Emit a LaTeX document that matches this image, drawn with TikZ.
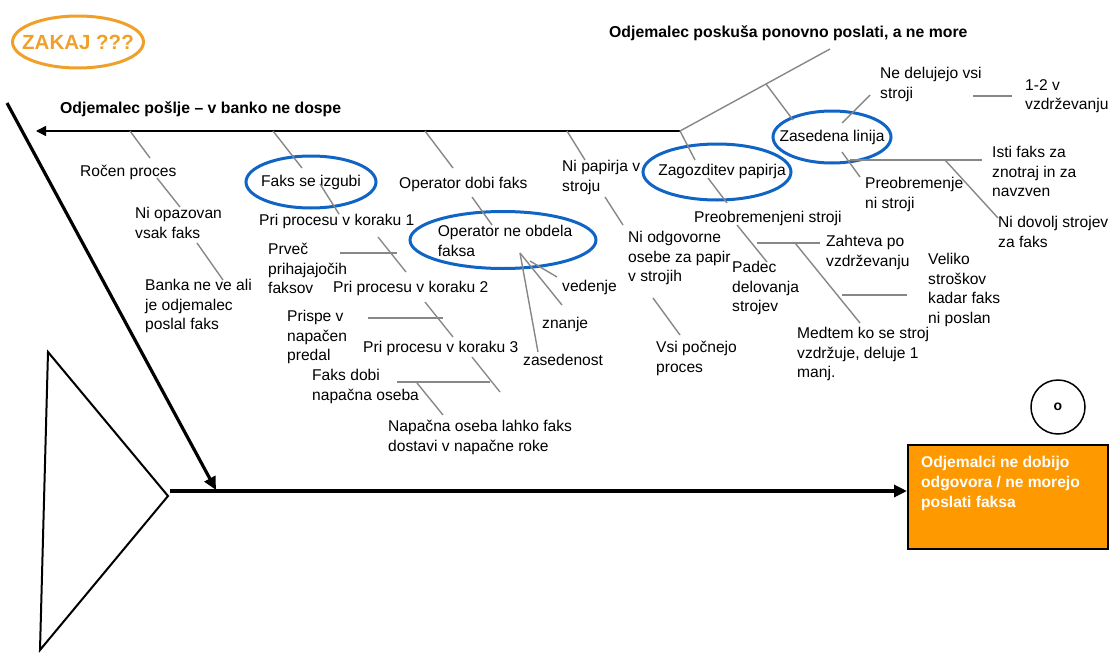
\documentclass[tikz,border=0pt]{standalone}
\usepackage{fontspec}
\setmainfont{Liberation Sans}
\usetikzlibrary{shapes.geometric,arrows.meta}

\definecolor{ringblue}{RGB}{16,100,196}
\definecolor{whyorange}{RGB}{240,160,40}
\definecolor{boxorange}{RGB}{255,153,0}
\definecolor{bonegray}{RGB}{135,135,135}

\tikzset{
  lbl/.style={anchor=north west, inner sep=0pt, align=left,
              font=\fontsize{15.6}{19.5}\selectfont},
  hdr/.style={lbl, font=\fontsize{15.8}{19.5}\selectfont\bfseries},
  ring/.style={ellipse, draw=ringblue, line width=3pt, inner sep=0pt},
  ringtext/.style={inner sep=0pt, align=left, font=\fontsize{15.6}{19.5}\selectfont},
  bone/.style={draw=bonegray, line width=1.4pt},
  spine/.style={draw=black, line width=3.2pt, -{Triangle[length=13pt,width=12pt]}},
  thinspine/.style={draw=black, line width=1.5pt, -{Triangle[length=10pt,width=10pt]}},
}

\begin{document}
\begin{tikzpicture}[x=1pt,y=-1pt]
\useasboundingbox (0,0) rectangle (1114,653);

% question bubble
\node[ellipse, draw=whyorange, line width=3pt, minimum width=131pt, minimum height=52pt,
      inner sep=0pt] (why) at (78,42) {};
\node[inner sep=0pt, text=whyorange, font=\fontsize{20.5}{24}\selectfont\bfseries]
  (whytext) at (why.center) {ZAKAJ ???};

% fish head (triangle) and main spine
\draw[line width=2pt, line join=miter] (48,352) -- (168,496) -- (40,650) -- cycle;
\node[draw=black, line width=1.5pt, fill=boxorange, anchor=north west,
      minimum width=200pt, minimum height=104pt, inner sep=0pt] (effect) at (907,444) {};
\node[anchor=north west, inner sep=0pt, align=left, text=white,
      font=\fontsize{15.6}{20}\selectfont\bfseries] (effecttext) at (921,456)
  {Odjemalci ne dobijo\\odgovora / ne morejo\\poslati faksa};
\node[circle, draw, line width=1.5pt, minimum size=54pt, inner sep=0pt,
      font=\fontsize{14}{16}\selectfont\bfseries] (note) at (1058,407) {o};

\coordinate (tail) at (170,491);
\draw[spine] (tail) -- (effect.west |- tail);

% diagonal arrow into the spine
\coordinate (diagtop) at (7,103);
\coordinate (diagend) at (216,490);
\draw[spine] (diagtop) -- (diagend);

% upper spine with its two headings
\coordinate (uright) at (680,131);
\coordinate (uleft) at (36,131);
\coordinate (retry) at (830,49);
\draw[thinspine] (uright) -- (uleft);
\draw[bone] (uright) -- (retry);
\node[hdr] (sendhead) at (60,102) {Odjemalec pošlje – v banko ne dospe};
\node[hdr] (retryhead) at (609,26) {Odjemalec poskuša ponovno poslati, a ne more};

% causes in blue rings
\node[ring, minimum width=130pt, minimum height=52pt] (lost) at (311,182) {};
\node[ringtext] (losttext) at (lost.center) {Faks se izgubi};
\node[ring, minimum width=186pt, minimum height=57pt] (operator) at (503,240) {};
\node[ringtext] (operatortext) at (505,241) {Operator ne obdela\\faksa};
\node[ring, minimum width=148pt, minimum height=56pt] (jam) at (717,172) {};
\node[ringtext] (jamtext) at (722,171) {Zagozditev papirja};
\node[ring, minimum width=118pt, minimum height=52pt] (busy) at (832,137) {};
\node[ringtext] (busytext) at (busy.center) {Zasedena linija};

% plain labels
\node[lbl] (manual) at (80,165) {Ročen proces};
\node[lbl] (notwatched) at (135,207) {Ni opazovan\\vsak faks};
\node[lbl] (bankunknown) at (145,279) {Banka ne ve ali\\je odjemalec\\poslal faks};
\node[lbl] (step1) at (259,214) {Pri procesu v koraku 1};
\node[lbl] (toomany) at (268,243) {Prveč\\prihajajočih\\faksov};
\node[lbl] (step2) at (333,281) {Pri procesu v koraku 2};
\node[lbl] (wrongtray) at (287,310) {Prispe v\\napačen\\predal};
\node[lbl] (step3) at (363,341) {Pri procesu v koraku 3};
\node[lbl] (wrongperson) at (312,369) {Faks dobi\\napačna oseba};
\node[lbl] (wronghands) at (388,420) {Napačna oseba lahko faks\\dostavi v napačne roke};
\node[lbl] (opgets) at (399,177) {Operator dobi faks};
\node[lbl] (behaviour) at (562,280) {vedenje};
\node[lbl] (knowledge) at (542,317) {znanje};
\node[lbl] (load) at (523,354) {zasedenost};
\node[lbl] (nopaper) at (562,160) {Ni papirja v\\stroju};
\node[lbl] (noresp) at (628,231) {Ni odgovorne\\osebe za papir\\v strojih};
\node[lbl] (allstart) at (656,341) {Vsi počnejo\\proces};
\node[lbl] (overloaded) at (694,211) {Preobremenjeni stroji};
\node[lbl] (failure) at (732,261) {Padec\\delovanja\\strojev};
\node[lbl] (service) at (826,235) {Zahteva po\\vzdrževanju};
\node[lbl] (cost) at (928,253) {Veliko\\stroškov\\kadar faks\\ni poslan};
\node[lbl] (oneless) at (797,327) {Medtem ko se stroj\\vzdržuje, deluje 1\\manj.};
\node[lbl] (notall) at (880,67) {Ne delujejo vsi\\stroji};
\node[lbl] (inservice) at (1025,79) {1-2 v\\vzdrževanju};
\node[lbl] (samefax) at (992,146) {Isti faks za\\znotraj in za\\navzven};
\node[lbl] (overload2) at (865,177) {Preobremenje\\ni stroji};
\node[lbl] (fewmachines) at (998,216) {Ni dovolj strojev\\za faks};

% grey bones
\foreach \n/\ax/\ay/\bx/\by in {
   1/130/131/150/158,   2/157/178/180/207,   3/197/243/223/280,
   4/273/131/302/168,   5/320/184/339/214,   6/378/237/406/272,
   7/340/253/397/253,   8/425/302/453/337,   9/368/318/443/318,
  10/472/357/500/392,  11/397/382/490/382,  12/417/383/443/415,
  13/425/131/453/168,  14/472/197/492/225,  15/530/261/557/277,
  16/520/253/562/305,  17/520/253/538/352,  18/567/131/585/160,
  19/605/197/623/225,  20/653/298/680/335,  21/680/131/695/160,
  22/708/178/727/203,  23/737/225/767/262,  24/757/243/820/243,
  25/795/243/860/323,  26/842/295/907/295,  27/766/84/793/120,
  28/842/123/870/95,   29/973/96/1012/96,   30/842/152/860/177,
  31/850/160/982/160,  32/945/160/998/218}
{
  \coordinate (b\n a) at (\ax,\ay);
  \coordinate (b\n b) at (\bx,\by);
  \draw[bone] (b\n a) -- (b\n b);
}
\end{tikzpicture}
\end{document}
